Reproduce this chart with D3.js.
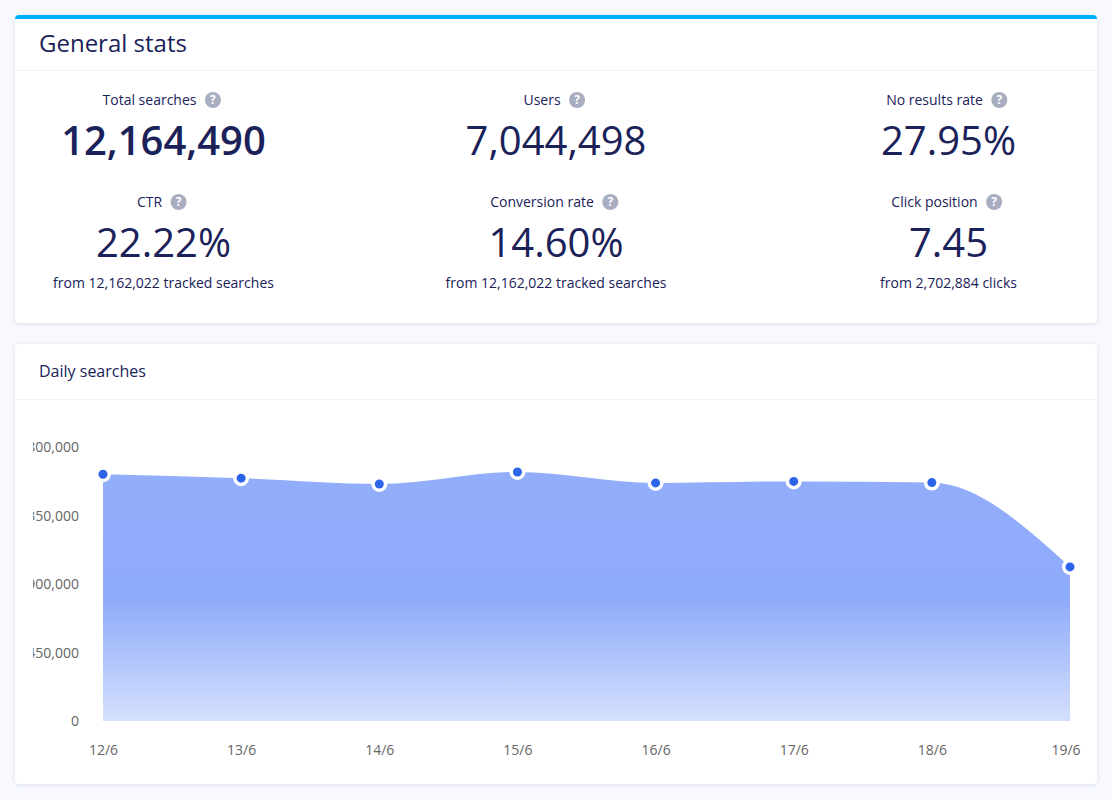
<!DOCTYPE html>
<html>
<head>
<meta charset="utf-8">
<script src="https://cdn.jsdelivr.net/npm/d3@7"></script>
<style>
  html, body { margin: 0; padding: 0; background: #f8f9ff; overflow: hidden; }
  svg { display: block; font-family: "Open Sans", "Noto Sans", sans-serif; }
  .card { fill: #fff; filter: drop-shadow(0 1px 2px rgba(40, 50, 90, 0.14)); }
</style>
</head>
<body>
<div id="chart"></div>
<script>
// stats
const statLabels = ["Total searches", "Users", "No results rate", "CTR", "Conversion rate", "Click position"];
const statValues = ["12,164,490", "7,044,498", "27.95%", "22.22%", "14.60%", "7.45"];
const statNotes = ["", "", "", "from 12,162,022 tracked searches", "from 12,162,022 tracked searches", "from 2,702,884 clicks"];

// daily searches
const days = ["12/6", "13/6", "14/6", "15/6", "16/6", "17/6", "18/6", "19/6"];
const searches = [1624000, 1598000, 1560000, 1639000, 1567000, 1577000, 1569000, 1014000];
const yTicks = [0, 450000, 900000, 1350000, 1800000];

const navy = "#1a2259";
const svg = d3.select("#chart").append("svg")
    .attr("width", 1112)
    .attr("height", 800);

const defs = svg.append("defs");

// cards
svg.append("rect").attr("class", "card")
    .attr("x", 15).attr("y", 15).attr("width", 1082).attr("height", 308).attr("rx", 4);
svg.append("rect").attr("class", "card")
    .attr("x", 15).attr("y", 344).attr("width", 1082).attr("height", 440).attr("rx", 4);

// blue strip on top of the first card
defs.append("clipPath").attr("id", "strip")
    .append("rect").attr("x", 15).attr("y", 15).attr("width", 1082).attr("height", 4);
svg.append("rect")
    .attr("x", 15).attr("y", 15).attr("width", 1082).attr("height", 20).attr("rx", 4)
    .attr("fill", "#00aeff")
    .attr("clip-path", "url(#strip)");

// dividers
[70, 399].forEach(y => {
    svg.append("line")
        .attr("x1", 15).attr("x2", 1097).attr("y1", y + 0.5).attr("y2", y + 0.5)
        .attr("stroke", "#f3f4f9");
});

svg.append("text").attr("x", 39).attr("y", 52)
    .attr("font-size", 24).attr("fill", navy).text("General stats");
svg.append("text").attr("x", 39).attr("y", 377)
    .attr("font-size", 16).attr("fill", navy).text("Daily searches");

// stat blocks, 3 columns and 2 rows
const columns = [163.5, 556, 948.5];
const rows = [105, 207];

statLabels.forEach((label, i) => {
    const cx = columns[i % 3];
    const top = rows[Math.floor(i / 3)];

    const g = svg.append("g");
    const labelText = g.append("text")
        .attr("y", top)
        .attr("font-size", 14)
        .attr("fill", navy)
        .text(label);
    const w = labelText.node().getComputedTextLength();
    const left = cx - 2 - (w + 24) / 2;
    labelText.attr("x", left);

    g.append("circle")
        .attr("cx", left + w + 16.5).attr("cy", top - 5).attr("r", 8)
        .attr("fill", "#a8adc0");
    g.append("text")
        .attr("x", left + w + 16.5).attr("y", top - 1)
        .attr("text-anchor", "middle")
        .attr("font-size", 12).attr("font-weight", 700)
        .attr("fill", "#fff")
        .text("?");

    svg.append("text")
        .attr("x", cx).attr("y", top + 50)
        .attr("text-anchor", "middle")
        .attr("font-size", 40)
        .attr("font-weight", i === 0 ? 600 : 400)
        .attr("fill", navy)
        .text(statValues[i]);

    if (statNotes[i]) {
        svg.append("text")
            .attr("x", cx).attr("y", top + 81)
            .attr("text-anchor", "middle")
            .attr("font-size", 14)
            .attr("fill", navy)
            .text(statNotes[i]);
    }
});

// area chart
const xScale = d3.scalePoint()
    .domain(days)
    .range([103, 1070]);

const yScale = d3.scaleLinear()
    .domain([0, 1800000])
    .range([721, 447.5]);

const gradient = defs.append("linearGradient")
    .attr("id", "areaFill")
    .attr("gradientUnits", "userSpaceOnUse")
    .attr("x1", 0).attr("x2", 0)
    .attr("y1", yScale(1800000)).attr("y2", yScale(0));
gradient.append("stop").attr("offset", 0).attr("stop-color", "#93aefa");
gradient.append("stop").attr("offset", 0.55).attr("stop-color", "#8eaafa");
gradient.append("stop").attr("offset", 1).attr("stop-color", "#d5e0fd");

const area = d3.area()
    .x((d, i) => xScale(days[i]))
    .y0(yScale(0))
    .y1(d => yScale(d))
    .curve(d3.curveMonotoneX);

svg.append("path")
    .datum(searches)
    .attr("fill", "url(#areaFill)")
    .attr("d", area);

// y labels are cut off on the left in the original
defs.append("clipPath").attr("id", "yClip")
    .append("rect").attr("x", 33).attr("y", 420).attr("width", 70).attr("height", 320);

const yAxis = d3.axisLeft(yScale)
    .tickValues(yTicks)
    .tickFormat(d3.format(","))
    .tickSize(0)
    .tickPadding(24);

const yAxisGroup = svg.append("g")
    .attr("transform", "translate(103,0)")
    .call(yAxis);
// clip in page coordinates through a wrapper
const yWrap = svg.append("g").attr("clip-path", "url(#yClip)");
yWrap.node().appendChild(yAxisGroup.node());

const xAxis = d3.axisBottom(xScale)
    .tickSize(0)
    .tickPadding(0);

const xAxisGroup = svg.append("g")
    .attr("transform", "translate(0,745)")
    .call(xAxis);

[yAxisGroup, xAxisGroup].forEach(axis => {
    axis.select(".domain").remove();
    axis.selectAll("text")
        .attr("font-family", "\"Open Sans\", \"Noto Sans\", sans-serif")
        .attr("font-size", 14)
        .attr("fill", "#666");
});

// last label is pushed back so it stays inside the chart
xAxisGroup.selectAll("text")
    .filter(d => d === days[days.length - 1])
    .attr("dx", -4.5);

// points
svg.selectAll(".halo")
    .data(searches)
    .enter()
    .append("circle")
    .attr("class", "halo")
    .attr("cx", (d, i) => xScale(days[i]))
    .attr("cy", d => yScale(d))
    .attr("r", 8)
    .attr("fill", "#fff");

svg.selectAll(".dot")
    .data(searches)
    .enter()
    .append("circle")
    .attr("class", "dot")
    .attr("cx", (d, i) => xScale(days[i]))
    .attr("cy", d => yScale(d))
    .attr("r", 4.5)
    .attr("fill", "#2d64ea");
</script>
</body>
</html>
